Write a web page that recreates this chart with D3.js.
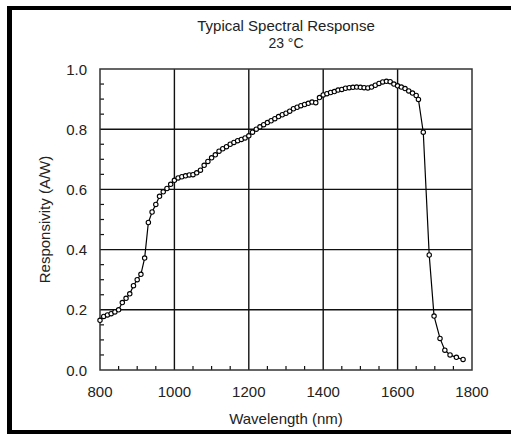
<!DOCTYPE html>
<html><head><meta charset="utf-8">
<script src="https://cdn.jsdelivr.net/npm/d3@7/dist/d3.min.js"></script>
<style>body{margin:0;background:#fff}svg{display:block}text{font-family:"Liberation Sans",Arial,sans-serif;fill:#222}</style>
</head><body><svg id="c" width="511" height="435"></svg>
<script>
const wavelength = [800,810,820,830,840,850,860,870,880,890,900,910,920,930,940,950,960,970,980,990,
1000,1010,1020,1030,1040,1050,1060,1070,1080,1090,1100,1110,1120,1130,1140,1150,1160,1170,1180,1190,
1200,1210,1220,1230,1240,1250,1260,1270,1280,1290,1300,1310,1320,1330,1340,1350,1360,1370,1380,1390,
1400,1410,1420,1430,1440,1450,1460,1470,1480,1490,1500,1510,1520,1530,1540,1550,1560,1570,1580,1590,
1600,1610,1620,1630,1640,1650,1656,1669,1685,1698,1714,1727,1741,1758,1776];
const responsivity = [0.165,0.178,0.183,0.187,0.193,0.200,0.224,0.238,0.253,0.280,0.300,0.318,0.372,0.490,0.525,0.550,0.577,0.592,0.603,0.617,
0.630,0.638,0.642,0.645,0.648,0.649,0.655,0.664,0.680,0.693,0.705,0.715,0.727,0.735,0.742,0.750,0.756,0.762,0.766,0.771,
0.778,0.790,0.800,0.808,0.815,0.822,0.828,0.835,0.842,0.848,0.853,0.860,0.868,0.873,0.878,0.882,0.886,0.890,0.888,0.905,
0.914,0.918,0.922,0.925,0.930,0.932,0.936,0.938,0.939,0.940,0.939,0.938,0.937,0.940,0.946,0.952,0.957,0.959,0.958,0.950,
0.944,0.940,0.935,0.927,0.920,0.912,0.899,0.790,0.382,0.179,0.105,0.066,0.050,0.042,0.035];
const xTicks = [800,1000,1200,1400,1600,1800];
const yTicks = [0.0,0.2,0.4,0.6,0.8,1.0];
const xMinor = d3.range(850,1800,50).filter(v=>v%200!==0);
const yMinor = d3.range(0.05,1.0,0.05).filter(v=>Math.abs(v*5-Math.round(v*5))>0.01);
const title = ["Typical Spectral Response","23 °C"];
const xLabel = "Wavelength (nm)", yLabel = "Responsivity (A/W)";

const svg = d3.select("#c");
const L=100,R=472,T=69,B=370;
const x = d3.scaleLinear().domain([800,1800]).range([L,R]);
const y = d3.scaleLinear().domain([0,1]).range([B,T]);

// outer frame
svg.append("rect").attr("x",7).attr("y",6).attr("width",5).attr("height",428).attr("fill","#000");
svg.append("rect").attr("x",7).attr("y",6).attr("width",504).attr("height",4).attr("fill","#000");
svg.append("rect").attr("x",7).attr("y",430).attr("width",504).attr("height",4).attr("fill","#000");

// grid
const g = svg.append("g");
g.selectAll(".vx").data(xTicks.slice(1,-1)).join("line")
 .attr("x1",d=>x(d)).attr("x2",d=>x(d)).attr("y1",T).attr("y2",B).attr("stroke","#111").attr("stroke-width",1.4);
g.selectAll(".hy").data(yTicks.slice(1,-1)).join("line")
 .attr("y1",d=>y(d)).attr("y2",d=>y(d)).attr("x1",L).attr("x2",R).attr("stroke","#111").attr("stroke-width",1.4);
// minor ticks
g.selectAll(".mx").data(xMinor).join("line")
 .attr("x1",d=>x(d)).attr("x2",d=>x(d)).attr("y1",B).attr("y2",B-4).attr("stroke","#111").attr("stroke-width",1.2);
g.selectAll(".my").data(yMinor).join("line")
 .attr("y1",d=>y(d)).attr("y2",d=>y(d)).attr("x1",L).attr("x2",L+4).attr("stroke","#111").attr("stroke-width",1.2);
svg.append("rect").attr("x",L).attr("y",T).attr("width",R-L).attr("height",B-T)
 .attr("fill","none").attr("stroke","#333").attr("stroke-width",1.5);

// tick labels
svg.selectAll(".xl").data(xTicks).join("text").attr("x",d=>x(d)).attr("y",B+27)
 .attr("text-anchor","middle").attr("font-size",15).text(d=>d);
svg.selectAll(".yl").data(yTicks).join("text").attr("x",L-13).attr("y",d=>y(d)+5.5)
 .attr("text-anchor","end").attr("font-size",15).text(d=>d.toFixed(1));

// titles
svg.append("text").attr("x",(L+R)/2).attr("y",31).attr("text-anchor","middle").attr("font-size",15).text(title[0]);
svg.append("text").attr("x",(L+R)/2).attr("y",48).attr("text-anchor","middle").attr("font-size",14).text(title[1]);
svg.append("text").attr("x",(L+R)/2).attr("y",424).attr("text-anchor","middle").attr("font-size",15).text(xLabel);
svg.append("text").attr("transform",`translate(50,${(T+B)/2}) rotate(-90)`).attr("text-anchor","middle").attr("font-size",15).text(yLabel);

// data
const pts = wavelength.map((w,i)=>({w,r:responsivity[i]}));
svg.append("path").datum(pts).attr("fill","none").attr("stroke","#000").attr("stroke-width",1.2)
 .attr("d",d3.line().x(d=>x(d.w)).y(d=>y(d.r)));
svg.selectAll(".pt").data(pts).join("circle").attr("cx",d=>x(d.w)).attr("cy",d=>y(d.r)).attr("r",2.2)
 .attr("fill","#fff").attr("stroke","#000").attr("stroke-width",1.1);
</script></body></html>
